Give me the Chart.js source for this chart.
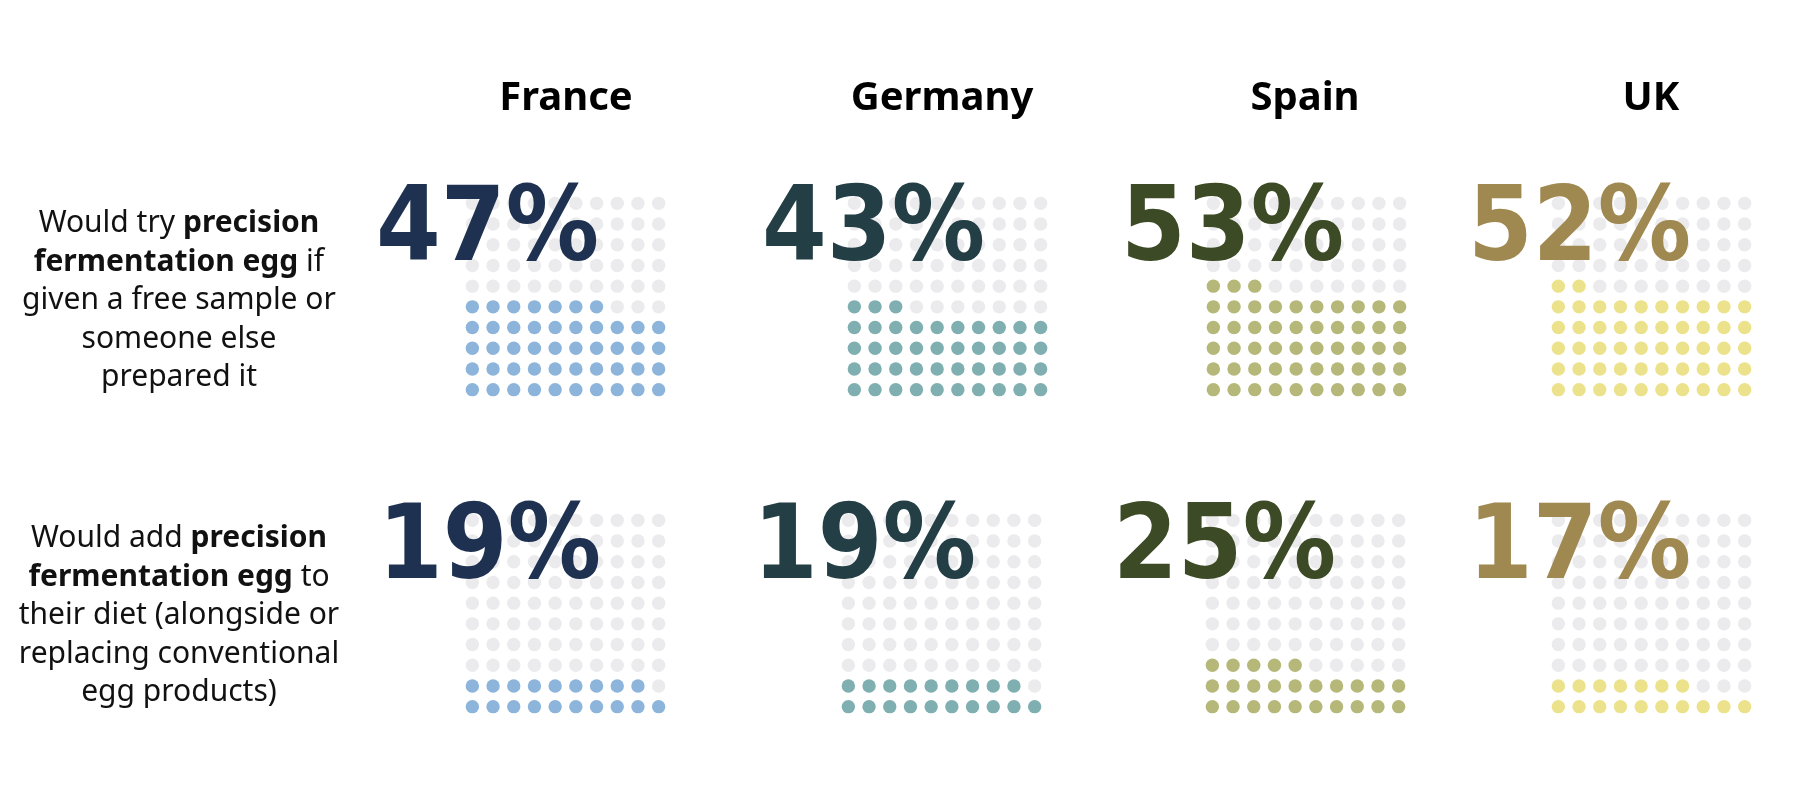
<!DOCTYPE html>
<html>
<head>
<meta charset="utf-8">
<script src="https://cdn.jsdelivr.net/npm/chart.js@4.4.1/dist/chart.umd.min.js"></script>
<style>
    html, body { margin: 0; padding: 0; background: #ffffff; }
    #page { position: relative; width: 1802px; height: 800px; overflow: hidden; }
    #page canvas { position: absolute; }
    #labels { position: absolute; left: 0; top: 0; pointer-events: none; }
    .country { font-family: "Noto Sans", sans-serif; font-weight: 700; font-size: 40px; fill: #000; }
    .question { font-family: "Noto Sans", sans-serif; font-size: 30px; fill: #111; }
    .question .b { font-weight: 700; }
    .pct { font-family: "DejaVu Sans", sans-serif; font-weight: 700; font-size: 103px; }
</style>
</head>
<body>
<div id="page">
    <svg id="labels" width="1802" height="800" xmlns="http://www.w3.org/2000/svg"></svg>
</div>
<script>
// data
const countries = ['France', 'Germany', 'Spain', 'UK'];
const wouldTry = [47, 43, 53, 52];
const wouldAdd = [19, 19, 25, 17];
const questions = [
    [['Would try ', ''], ['precision', 'b'], ['fermentation egg', 'b'], [' if', ''], ['given a free sample or', ''], ['someone else', ''], ['prepared it', '']],
    [['Would add ', ''], ['precision', 'b'], ['fermentation egg', 'b'], [' to', ''], ['their diet (alongside or', ''], ['replacing conventional', ''], ['egg products)', '']]
];
// which pieces go on which line
const questionLineBreaks = [[0, 1], [2, 3], [4], [5], [6]];

// styles / layout
const dotColors = ['#8db4da', '#7fafb0', '#b5b878', '#ece28b'];
const textColors = ['#1e3150', '#233f45', '#3c4a25', '#a08851'];
const emptyColor = '#ebebed';
const gridLeft = [[462, 844, 1203, 1548], [462, 838, 1202, 1548]];
const gridTop = [193, 510];
const gridSize = 207;
const labelCenters = [566, 942, 1305, 1651];
const pctLeft = [[376, 762, 1121, 1468], [378, 753, 1113, 1468]];
const pctBaseline = [260, 578];
const questionBaseline = [232, 547];
const questionLineGap = 38.5;

const page = document.getElementById('page');
const svg = document.getElementById('labels');
const NS = 'http://www.w3.org/2000/svg';

function waffle(value) {
    const filled = [];
    const empty = [];
    for (let i = 0; i < 100; i++) {
        const p = { x: i % 10, y: Math.floor(i / 10) };
        (i < value ? filled : empty).push(p);
    }
    return { filled, empty };
}

function drawWaffle(value, colour, left, top) {
    const canvas = document.createElement('canvas');
    canvas.width = gridSize;
    canvas.height = gridSize;
    canvas.style.left = left + 'px';
    canvas.style.top = top + 'px';
    page.insertBefore(canvas, svg);

    const pts = waffle(value);
    const dot = { pointRadius: 6.7, pointHoverRadius: 6.7, borderWidth: 0, pointBorderWidth: 0 };
    new Chart(canvas, {
        type: 'scatter',
        data: {
            datasets: [
                { data: pts.filled, backgroundColor: colour, ...dot },
                { data: pts.empty, backgroundColor: emptyColor, ...dot }
            ]
        },
        options: {
            responsive: false,
            animation: false,
            events: [],
            layout: { padding: 0, autoPadding: false },
            plugins: { legend: { display: false }, tooltip: { enabled: false } },
            scales: {
                x: { type: 'linear', min: -0.5, max: 9.5, display: false },
                y: { type: 'linear', min: -0.5, max: 9.5, display: false }
            }
        }
    });
}

function addText(cls, x, y, str, anchor) {
    const t = document.createElementNS(NS, 'text');
    t.setAttribute('class', cls);
    t.setAttribute('x', x);
    t.setAttribute('y', y);
    if (anchor) t.setAttribute('text-anchor', anchor);
    if (str) t.textContent = str;
    svg.appendChild(t);
    return t;
}

[wouldTry, wouldAdd].forEach((row, r) => {
    row.forEach((v, c) => {
        drawWaffle(v, dotColors[c], gridLeft[r][c], gridTop[r]);
        const t = addText('pct', pctLeft[r][c], pctBaseline[r], v + '%');
        t.setAttribute('fill', textColors[c]);
        t.setAttribute('textLength', 223);
        t.setAttribute('lengthAdjust', 'spacingAndGlyphs');
    });
});

countries.forEach((name, c) => addText('country', labelCenters[c], 110, name, 'middle'));

questions.forEach((pieces, r) => {
    questionLineBreaks.forEach((idx, li) => {
        const t = addText('question', 179, questionBaseline[r] + li * questionLineGap, '', 'middle');
        idx.forEach(k => {
            const s = document.createElementNS(NS, 'tspan');
            s.textContent = pieces[k][0];
            if (pieces[k][1]) s.setAttribute('class', pieces[k][1]);
            t.appendChild(s);
        });
    });
});
</script>
</body>
</html>
